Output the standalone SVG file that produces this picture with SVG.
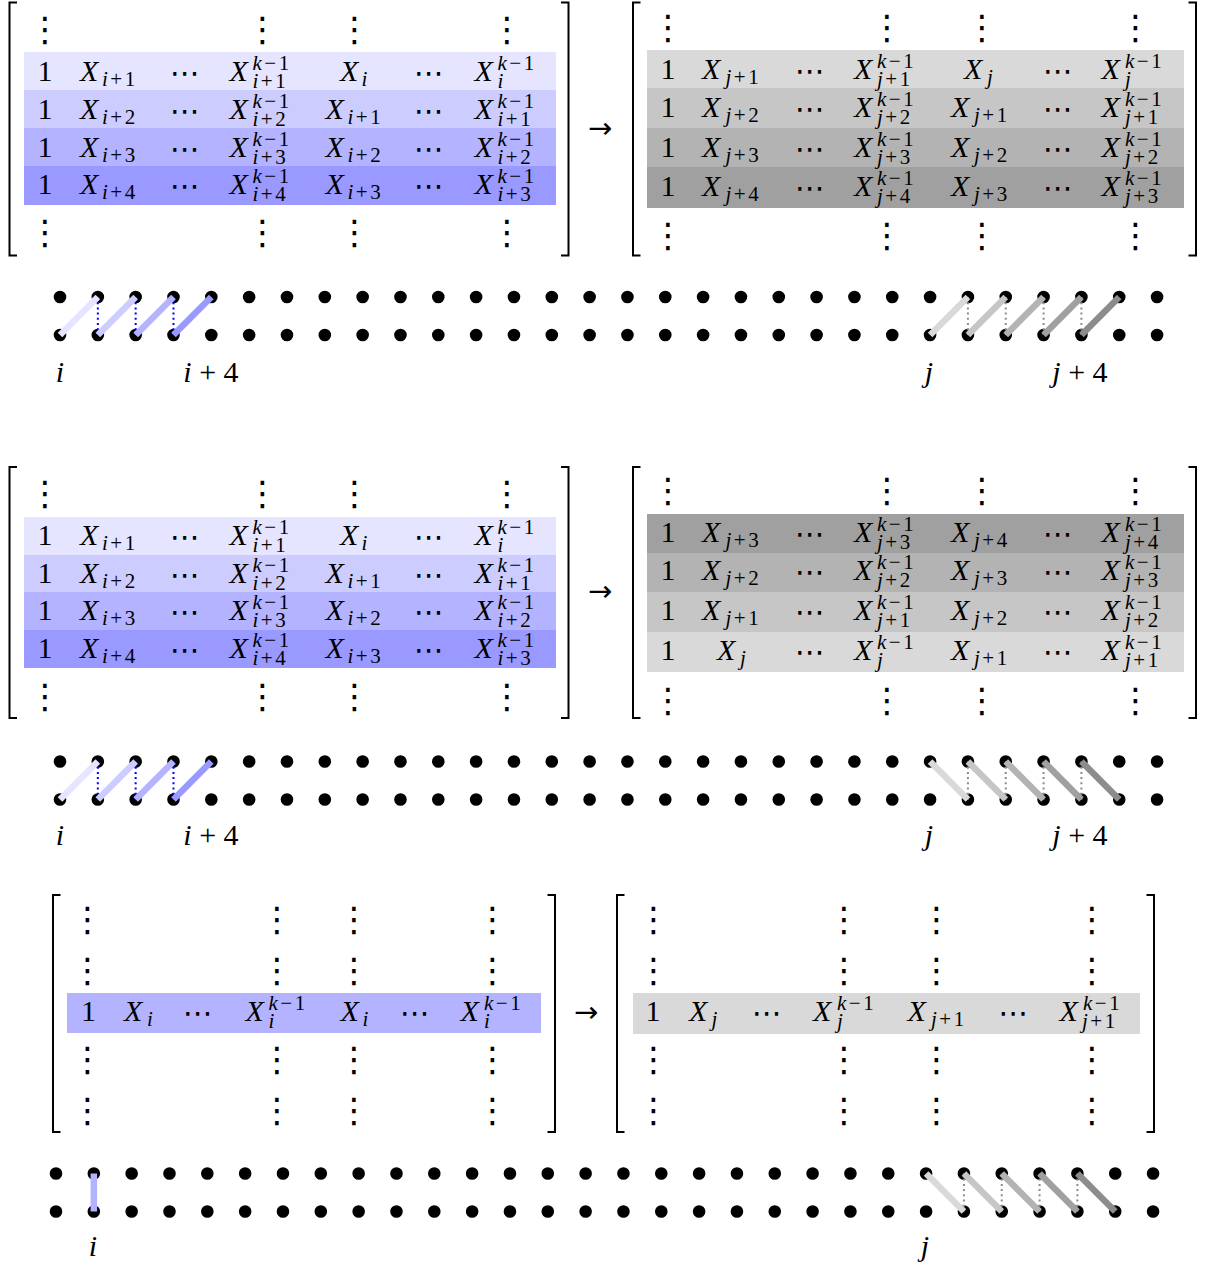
<svg xmlns="http://www.w3.org/2000/svg" width="1206" height="1266" viewBox="0 0 1206 1266">
<style>
.t{font-family:'Liberation Serif','DejaVu Serif','Times New Roman',serif;font-size:30px;fill:#000}
.x{font-style:italic}
.s{font-size:21px;letter-spacing:2.5px}
.e{font-family:'DejaVu Sans',sans-serif;font-size:34px;fill:#000;text-anchor:middle}
.h{font-family:'DejaVu Sans',sans-serif;font-size:30px;fill:#000;text-anchor:middle}
.ar{font-family:'DejaVu Sans',sans-serif;font-size:29px;fill:#000}
.c{text-anchor:middle}
.br{fill:none;stroke:#000;stroke-width:2}
.dr{stroke:#000;stroke-width:12.6;stroke-linecap:round;stroke-dasharray:0 37.83;fill:none}
.bar{stroke-width:6.5;stroke-linecap:butt;fill:none}
.bd{stroke:#0000ff;stroke-width:2;stroke-dasharray:2 3.2;fill:none}
.gd{stroke:#8c8c8c;stroke-width:2;stroke-dasharray:2 3.2;fill:none}
.b1{fill:#e5e5ff}.b2{fill:#ccccff}.b3{fill:#b3b3ff}.b4{fill:#9999ff}
.g1{fill:#d9d9d9}.g2{fill:#c6c6c6}.g3{fill:#b3b3b3}.g4{fill:#a0a0a0}
.sb1{stroke:#e5e5ff}.sb2{stroke:#ccccff}.sb3{stroke:#b3b3ff}.sb4{stroke:#9999ff}
.sg1{stroke:#d9d9d9}.sg2{stroke:#c6c6c6}.sg3{stroke:#b3b3b3}.sg4{stroke:#a0a0a0}.sg5{stroke:#8c8c8c}
</style>

<!-- ============ SECTION 1 ============ -->
<g id="s1-left">
<rect class="b1" x="24" y="52" width="532" height="38"/>
<rect class="b2" x="24" y="90" width="532" height="38"/>
<rect class="b3" x="24" y="128" width="532" height="38"/>
<rect class="b4" x="24" y="166" width="532" height="39"/>
<path class="br" d="M17,2.5H9.5V255.5H17"/>
<path class="br" d="M561,2.5H568.5V255.5H561"/>
<text class="e" x="45" y="41">⋮</text><text class="e" x="262.5" y="41">⋮</text><text class="e" x="354.5" y="41">⋮</text><text class="e" x="507" y="41">⋮</text>
<text class="e" x="45" y="244">⋮</text><text class="e" x="262.5" y="244">⋮</text><text class="e" x="354.5" y="244">⋮</text><text class="e" x="507" y="244">⋮</text>
<!-- row 1 -->
<text class="t c" x="45" y="81">1</text>
<text class="t"><tspan class="x" x="80" y="81">X</tspan><tspan class="s" x="102" y="86"><tspan class="x">i</tspan>+1</tspan></text>
<text class="h" x="185" y="83">⋯</text>
<text class="t"><tspan class="x" x="229.5" y="81">X</tspan><tspan class="s" x="252.5" y="70"><tspan class="x">k</tspan>−1</tspan><tspan class="s" x="252.5" y="88"><tspan class="x">i</tspan>+1</tspan></text>
<text class="t"><tspan class="x" x="340" y="81">X</tspan><tspan class="s x" x="361.5" y="86">i</tspan></text>
<text class="h" x="429" y="83">⋯</text>
<text class="t"><tspan class="x" x="474.5" y="81">X</tspan><tspan class="s" x="497.5" y="70"><tspan class="x">k</tspan>−1</tspan><tspan class="s x" x="497.5" y="88">i</tspan></text>
<!-- row 2 -->
<text class="t c" x="45" y="119">1</text>
<text class="t"><tspan class="x" x="80" y="119">X</tspan><tspan class="s" x="102" y="124"><tspan class="x">i</tspan>+2</tspan></text>
<text class="h" x="185" y="121">⋯</text>
<text class="t"><tspan class="x" x="229.5" y="119">X</tspan><tspan class="s" x="252.5" y="108"><tspan class="x">k</tspan>−1</tspan><tspan class="s" x="252.5" y="126"><tspan class="x">i</tspan>+2</tspan></text>
<text class="t"><tspan class="x" x="325.5" y="119">X</tspan><tspan class="s" x="347.5" y="124"><tspan class="x">i</tspan>+1</tspan></text>
<text class="h" x="429" y="121">⋯</text>
<text class="t"><tspan class="x" x="474.5" y="119">X</tspan><tspan class="s" x="497.5" y="108"><tspan class="x">k</tspan>−1</tspan><tspan class="s" x="497.5" y="126"><tspan class="x">i</tspan>+1</tspan></text>
<!-- row 3 -->
<text class="t c" x="45" y="157">1</text>
<text class="t"><tspan class="x" x="80" y="157">X</tspan><tspan class="s" x="102" y="162"><tspan class="x">i</tspan>+3</tspan></text>
<text class="h" x="185" y="159">⋯</text>
<text class="t"><tspan class="x" x="229.5" y="157">X</tspan><tspan class="s" x="252.5" y="146"><tspan class="x">k</tspan>−1</tspan><tspan class="s" x="252.5" y="164"><tspan class="x">i</tspan>+3</tspan></text>
<text class="t"><tspan class="x" x="325.5" y="157">X</tspan><tspan class="s" x="347.5" y="162"><tspan class="x">i</tspan>+2</tspan></text>
<text class="h" x="429" y="159">⋯</text>
<text class="t"><tspan class="x" x="474.5" y="157">X</tspan><tspan class="s" x="497.5" y="146"><tspan class="x">k</tspan>−1</tspan><tspan class="s" x="497.5" y="164"><tspan class="x">i</tspan>+2</tspan></text>
<!-- row 4 -->
<text class="t c" x="45" y="194">1</text>
<text class="t"><tspan class="x" x="80" y="194">X</tspan><tspan class="s" x="102" y="199"><tspan class="x">i</tspan>+4</tspan></text>
<text class="h" x="185" y="196">⋯</text>
<text class="t"><tspan class="x" x="229.5" y="194">X</tspan><tspan class="s" x="252.5" y="183"><tspan class="x">k</tspan>−1</tspan><tspan class="s" x="252.5" y="201"><tspan class="x">i</tspan>+4</tspan></text>
<text class="t"><tspan class="x" x="325.5" y="194">X</tspan><tspan class="s" x="347.5" y="199"><tspan class="x">i</tspan>+3</tspan></text>
<text class="h" x="429" y="196">⋯</text>
<text class="t"><tspan class="x" x="474.5" y="194">X</tspan><tspan class="s" x="497.5" y="183"><tspan class="x">k</tspan>−1</tspan><tspan class="s" x="497.5" y="201"><tspan class="x">i</tspan>+3</tspan></text>
</g>

<g id="s1-arrow"><text class="ar" x="588" y="138">→</text></g>

<g id="s1-right">
<rect class="g1" x="647" y="50" width="537" height="38"/>
<rect class="g2" x="647" y="88" width="537" height="40"/>
<rect class="g3" x="647" y="128" width="537" height="39"/>
<rect class="g4" x="647" y="167" width="537" height="41"/>
<path class="br" d="M640.5,2.5H633V255.5H640.5"/>
<path class="br" d="M1188.5,2.5H1196V255.5H1188.5"/>
<text class="e" x="668" y="39">⋮</text><text class="e" x="887" y="39">⋮</text><text class="e" x="982" y="39">⋮</text><text class="e" x="1135.5" y="39">⋮</text>
<text class="e" x="668" y="247">⋮</text><text class="e" x="887" y="247">⋮</text><text class="e" x="982" y="247">⋮</text><text class="e" x="1135.5" y="247">⋮</text>
<!-- row 1 -->
<text class="t c" x="668" y="79">1</text>
<text class="t"><tspan class="x" x="702" y="79">X</tspan><tspan class="s" x="725.5" y="84"><tspan class="x">j</tspan>+1</tspan></text>
<text class="h" x="810" y="81">⋯</text>
<text class="t"><tspan class="x" x="854" y="79">X</tspan><tspan class="s" x="877" y="68"><tspan class="x">k</tspan>−1</tspan><tspan class="s" x="877" y="86"><tspan class="x">j</tspan>+1</tspan></text>
<text class="t"><tspan class="x" x="964" y="79">X</tspan><tspan class="s x" x="987" y="84">j</tspan></text>
<text class="h" x="1058" y="81">⋯</text>
<text class="t"><tspan class="x" x="1101.5" y="79">X</tspan><tspan class="s" x="1125" y="68"><tspan class="x">k</tspan>−1</tspan><tspan class="s x" x="1125" y="86">j</tspan></text>
<!-- row 2 -->
<text class="t c" x="668" y="117">1</text>
<text class="t"><tspan class="x" x="702" y="117">X</tspan><tspan class="s" x="725.5" y="122"><tspan class="x">j</tspan>+2</tspan></text>
<text class="h" x="810" y="119">⋯</text>
<text class="t"><tspan class="x" x="854" y="117">X</tspan><tspan class="s" x="877" y="106"><tspan class="x">k</tspan>−1</tspan><tspan class="s" x="877" y="124"><tspan class="x">j</tspan>+2</tspan></text>
<text class="t"><tspan class="x" x="951" y="117">X</tspan><tspan class="s" x="974" y="122"><tspan class="x">j</tspan>+1</tspan></text>
<text class="h" x="1058" y="119">⋯</text>
<text class="t"><tspan class="x" x="1101.5" y="117">X</tspan><tspan class="s" x="1125" y="106"><tspan class="x">k</tspan>−1</tspan><tspan class="s" x="1125" y="124"><tspan class="x">j</tspan>+1</tspan></text>
<!-- row 3 -->
<text class="t c" x="668" y="157">1</text>
<text class="t"><tspan class="x" x="702" y="157">X</tspan><tspan class="s" x="725.5" y="162"><tspan class="x">j</tspan>+3</tspan></text>
<text class="h" x="810" y="159">⋯</text>
<text class="t"><tspan class="x" x="854" y="157">X</tspan><tspan class="s" x="877" y="146"><tspan class="x">k</tspan>−1</tspan><tspan class="s" x="877" y="164"><tspan class="x">j</tspan>+3</tspan></text>
<text class="t"><tspan class="x" x="951" y="157">X</tspan><tspan class="s" x="974" y="162"><tspan class="x">j</tspan>+2</tspan></text>
<text class="h" x="1058" y="159">⋯</text>
<text class="t"><tspan class="x" x="1101.5" y="157">X</tspan><tspan class="s" x="1125" y="146"><tspan class="x">k</tspan>−1</tspan><tspan class="s" x="1125" y="164"><tspan class="x">j</tspan>+2</tspan></text>
<!-- row 4 -->
<text class="t c" x="668" y="196">1</text>
<text class="t"><tspan class="x" x="702" y="196">X</tspan><tspan class="s" x="725.5" y="201"><tspan class="x">j</tspan>+4</tspan></text>
<text class="h" x="810" y="198">⋯</text>
<text class="t"><tspan class="x" x="854" y="196">X</tspan><tspan class="s" x="877" y="185"><tspan class="x">k</tspan>−1</tspan><tspan class="s" x="877" y="203"><tspan class="x">j</tspan>+4</tspan></text>
<text class="t"><tspan class="x" x="951" y="196">X</tspan><tspan class="s" x="974" y="201"><tspan class="x">j</tspan>+3</tspan></text>
<text class="h" x="1058" y="198">⋯</text>
<text class="t"><tspan class="x" x="1101.5" y="196">X</tspan><tspan class="s" x="1125" y="185"><tspan class="x">k</tspan>−1</tspan><tspan class="s" x="1125" y="203"><tspan class="x">j</tspan>+3</tspan></text>
</g>

<g id="s1-dots">
<line class="dr" x1="60" y1="297" x2="1157.5" y2="297"/>
<line class="dr" x1="60" y1="335" x2="1157.5" y2="335"/>
</g>
<g id="s1-connectors">
<line class="bd" x1="97.83" y1="297" x2="97.83" y2="335"/>
<line class="bd" x1="135.66" y1="297" x2="135.66" y2="335"/>
<line class="bd" x1="173.49" y1="297" x2="173.49" y2="335"/>
<line class="gd" x1="967.92" y1="297" x2="967.92" y2="335"/>
<line class="gd" x1="1005.75" y1="297" x2="1005.75" y2="335"/>
<line class="gd" x1="1043.58" y1="297" x2="1043.58" y2="335"/>
<line class="gd" x1="1081.41" y1="297" x2="1081.41" y2="335"/>
<line class="bar sb1" x1="60" y1="335" x2="97.83" y2="297"/>
<line class="bar sb2" x1="97.83" y1="335" x2="135.66" y2="297"/>
<line class="bar sb3" x1="135.66" y1="335" x2="173.49" y2="297"/>
<line class="bar sb4" x1="173.49" y1="335" x2="211.32" y2="297"/>
<line class="bar sg1" x1="930.09" y1="335" x2="967.92" y2="297"/>
<line class="bar sg2" x1="967.92" y1="335" x2="1005.75" y2="297"/>
<line class="bar sg3" x1="1005.75" y1="335" x2="1043.58" y2="297"/>
<line class="bar sg4" x1="1043.58" y1="335" x2="1081.41" y2="297"/>
<line class="bar sg5" x1="1081.41" y1="335" x2="1119.24" y2="297"/>
</g>
<g id="s1-labels">
<text class="t x c" x="60" y="382">i</text>
<text class="t c" x="211" y="382"><tspan class="x">i</tspan> + 4</text>
<text class="t x c" x="929" y="382">j</text>
<text class="t c" x="1080" y="382"><tspan class="x">j</tspan> + 4</text>
</g>

<!-- ============ SECTION 2 ============ -->
<g id="s2-left">
<rect class="b1" x="24" y="517" width="532" height="38"/>
<rect class="b2" x="24" y="555" width="532" height="37"/>
<rect class="b3" x="24" y="592" width="532" height="38"/>
<rect class="b4" x="24" y="630" width="532" height="38"/>
<path class="br" d="M17,467H9.5V718H17"/>
<path class="br" d="M561,467H568.5V718H561"/>
<text class="e" x="45" y="505">⋮</text><text class="e" x="262.5" y="505">⋮</text><text class="e" x="354.5" y="505">⋮</text><text class="e" x="507" y="505">⋮</text>
<text class="e" x="45" y="708">⋮</text><text class="e" x="262.5" y="708">⋮</text><text class="e" x="354.5" y="708">⋮</text><text class="e" x="507" y="708">⋮</text>
<!-- row 1 -->
<text class="t c" x="45" y="545">1</text>
<text class="t"><tspan class="x" x="80" y="545">X</tspan><tspan class="s" x="102" y="550"><tspan class="x">i</tspan>+1</tspan></text>
<text class="h" x="185" y="547">⋯</text>
<text class="t"><tspan class="x" x="229.5" y="545">X</tspan><tspan class="s" x="252.5" y="534"><tspan class="x">k</tspan>−1</tspan><tspan class="s" x="252.5" y="552"><tspan class="x">i</tspan>+1</tspan></text>
<text class="t"><tspan class="x" x="340" y="545">X</tspan><tspan class="s x" x="361.5" y="550">i</tspan></text>
<text class="h" x="429" y="547">⋯</text>
<text class="t"><tspan class="x" x="474.5" y="545">X</tspan><tspan class="s" x="497.5" y="534"><tspan class="x">k</tspan>−1</tspan><tspan class="s x" x="497.5" y="552">i</tspan></text>
<!-- row 2 -->
<text class="t c" x="45" y="583">1</text>
<text class="t"><tspan class="x" x="80" y="583">X</tspan><tspan class="s" x="102" y="588"><tspan class="x">i</tspan>+2</tspan></text>
<text class="h" x="185" y="585">⋯</text>
<text class="t"><tspan class="x" x="229.5" y="583">X</tspan><tspan class="s" x="252.5" y="572"><tspan class="x">k</tspan>−1</tspan><tspan class="s" x="252.5" y="590"><tspan class="x">i</tspan>+2</tspan></text>
<text class="t"><tspan class="x" x="325.5" y="583">X</tspan><tspan class="s" x="347.5" y="588"><tspan class="x">i</tspan>+1</tspan></text>
<text class="h" x="429" y="585">⋯</text>
<text class="t"><tspan class="x" x="474.5" y="583">X</tspan><tspan class="s" x="497.5" y="572"><tspan class="x">k</tspan>−1</tspan><tspan class="s" x="497.5" y="590"><tspan class="x">i</tspan>+1</tspan></text>
<!-- row 3 -->
<text class="t c" x="45" y="620">1</text>
<text class="t"><tspan class="x" x="80" y="620">X</tspan><tspan class="s" x="102" y="625"><tspan class="x">i</tspan>+3</tspan></text>
<text class="h" x="185" y="622">⋯</text>
<text class="t"><tspan class="x" x="229.5" y="620">X</tspan><tspan class="s" x="252.5" y="609"><tspan class="x">k</tspan>−1</tspan><tspan class="s" x="252.5" y="627"><tspan class="x">i</tspan>+3</tspan></text>
<text class="t"><tspan class="x" x="325.5" y="620">X</tspan><tspan class="s" x="347.5" y="625"><tspan class="x">i</tspan>+2</tspan></text>
<text class="h" x="429" y="622">⋯</text>
<text class="t"><tspan class="x" x="474.5" y="620">X</tspan><tspan class="s" x="497.5" y="609"><tspan class="x">k</tspan>−1</tspan><tspan class="s" x="497.5" y="627"><tspan class="x">i</tspan>+2</tspan></text>
<!-- row 4 -->
<text class="t c" x="45" y="658">1</text>
<text class="t"><tspan class="x" x="80" y="658">X</tspan><tspan class="s" x="102" y="663"><tspan class="x">i</tspan>+4</tspan></text>
<text class="h" x="185" y="660">⋯</text>
<text class="t"><tspan class="x" x="229.5" y="658">X</tspan><tspan class="s" x="252.5" y="647"><tspan class="x">k</tspan>−1</tspan><tspan class="s" x="252.5" y="665"><tspan class="x">i</tspan>+4</tspan></text>
<text class="t"><tspan class="x" x="325.5" y="658">X</tspan><tspan class="s" x="347.5" y="663"><tspan class="x">i</tspan>+3</tspan></text>
<text class="h" x="429" y="660">⋯</text>
<text class="t"><tspan class="x" x="474.5" y="658">X</tspan><tspan class="s" x="497.5" y="647"><tspan class="x">k</tspan>−1</tspan><tspan class="s" x="497.5" y="665"><tspan class="x">i</tspan>+3</tspan></text>
</g>

<g id="s2-arrow"><text class="ar" x="588" y="601">→</text></g>

<g id="s2-right">
<rect class="g4" x="647" y="514" width="537" height="39"/>
<rect class="g3" x="647" y="553" width="537" height="39"/>
<rect class="g2" x="647" y="592" width="537" height="40"/>
<rect class="g1" x="647" y="632" width="537" height="40"/>
<path class="br" d="M640.5,467H633V718H640.5"/>
<path class="br" d="M1188.5,467H1196V718H1188.5"/>
<text class="e" x="668" y="502">⋮</text><text class="e" x="887" y="502">⋮</text><text class="e" x="982" y="502">⋮</text><text class="e" x="1135.5" y="502">⋮</text>
<text class="e" x="668" y="712">⋮</text><text class="e" x="887" y="712">⋮</text><text class="e" x="982" y="712">⋮</text><text class="e" x="1135.5" y="712">⋮</text>
<!-- row 1 -->
<text class="t c" x="668" y="542">1</text>
<text class="t"><tspan class="x" x="702" y="542">X</tspan><tspan class="s" x="725.5" y="547"><tspan class="x">j</tspan>+3</tspan></text>
<text class="h" x="810" y="544">⋯</text>
<text class="t"><tspan class="x" x="854" y="542">X</tspan><tspan class="s" x="877" y="531"><tspan class="x">k</tspan>−1</tspan><tspan class="s" x="877" y="549"><tspan class="x">j</tspan>+3</tspan></text>
<text class="t"><tspan class="x" x="951" y="542">X</tspan><tspan class="s" x="974" y="547"><tspan class="x">j</tspan>+4</tspan></text>
<text class="h" x="1058" y="544">⋯</text>
<text class="t"><tspan class="x" x="1101.5" y="542">X</tspan><tspan class="s" x="1125" y="531"><tspan class="x">k</tspan>−1</tspan><tspan class="s" x="1125" y="549"><tspan class="x">j</tspan>+4</tspan></text>
<!-- row 2 -->
<text class="t c" x="668" y="580">1</text>
<text class="t"><tspan class="x" x="702" y="580">X</tspan><tspan class="s" x="725.5" y="585"><tspan class="x">j</tspan>+2</tspan></text>
<text class="h" x="810" y="582">⋯</text>
<text class="t"><tspan class="x" x="854" y="580">X</tspan><tspan class="s" x="877" y="569"><tspan class="x">k</tspan>−1</tspan><tspan class="s" x="877" y="587"><tspan class="x">j</tspan>+2</tspan></text>
<text class="t"><tspan class="x" x="951" y="580">X</tspan><tspan class="s" x="974" y="585"><tspan class="x">j</tspan>+3</tspan></text>
<text class="h" x="1058" y="582">⋯</text>
<text class="t"><tspan class="x" x="1101.5" y="580">X</tspan><tspan class="s" x="1125" y="569"><tspan class="x">k</tspan>−1</tspan><tspan class="s" x="1125" y="587"><tspan class="x">j</tspan>+3</tspan></text>
<!-- row 3 -->
<text class="t c" x="668" y="620">1</text>
<text class="t"><tspan class="x" x="702" y="620">X</tspan><tspan class="s" x="725.5" y="625"><tspan class="x">j</tspan>+1</tspan></text>
<text class="h" x="810" y="622">⋯</text>
<text class="t"><tspan class="x" x="854" y="620">X</tspan><tspan class="s" x="877" y="609"><tspan class="x">k</tspan>−1</tspan><tspan class="s" x="877" y="627"><tspan class="x">j</tspan>+1</tspan></text>
<text class="t"><tspan class="x" x="951" y="620">X</tspan><tspan class="s" x="974" y="625"><tspan class="x">j</tspan>+2</tspan></text>
<text class="h" x="1058" y="622">⋯</text>
<text class="t"><tspan class="x" x="1101.5" y="620">X</tspan><tspan class="s" x="1125" y="609"><tspan class="x">k</tspan>−1</tspan><tspan class="s" x="1125" y="627"><tspan class="x">j</tspan>+2</tspan></text>
<!-- row 4 -->
<text class="t c" x="668" y="660">1</text>
<text class="t"><tspan class="x" x="717" y="660">X</tspan><tspan class="s x" x="740" y="665">j</tspan></text>
<text class="h" x="810" y="662">⋯</text>
<text class="t"><tspan class="x" x="854" y="660">X</tspan><tspan class="s" x="877" y="649"><tspan class="x">k</tspan>−1</tspan><tspan class="s x" x="877" y="667">j</tspan></text>
<text class="t"><tspan class="x" x="951" y="660">X</tspan><tspan class="s" x="974" y="665"><tspan class="x">j</tspan>+1</tspan></text>
<text class="h" x="1058" y="662">⋯</text>
<text class="t"><tspan class="x" x="1101.5" y="660">X</tspan><tspan class="s" x="1125" y="649"><tspan class="x">k</tspan>−1</tspan><tspan class="s" x="1125" y="667"><tspan class="x">j</tspan>+1</tspan></text>
</g>

<g id="s2-dots">
<line class="dr" x1="60" y1="761.5" x2="1157.5" y2="761.5"/>
<line class="dr" x1="60" y1="799.5" x2="1157.5" y2="799.5"/>
</g>
<g id="s2-connectors">
<line class="bd" x1="97.83" y1="761.5" x2="97.83" y2="799.5"/>
<line class="bd" x1="135.66" y1="761.5" x2="135.66" y2="799.5"/>
<line class="bd" x1="173.49" y1="761.5" x2="173.49" y2="799.5"/>
<line class="gd" x1="967.92" y1="761.5" x2="967.92" y2="799.5"/>
<line class="gd" x1="1005.75" y1="761.5" x2="1005.75" y2="799.5"/>
<line class="gd" x1="1043.58" y1="761.5" x2="1043.58" y2="799.5"/>
<line class="gd" x1="1081.41" y1="761.5" x2="1081.41" y2="799.5"/>
<line class="bar sb1" x1="60" y1="799.5" x2="97.83" y2="761.5"/>
<line class="bar sb2" x1="97.83" y1="799.5" x2="135.66" y2="761.5"/>
<line class="bar sb3" x1="135.66" y1="799.5" x2="173.49" y2="761.5"/>
<line class="bar sb4" x1="173.49" y1="799.5" x2="211.32" y2="761.5"/>
<line class="bar sg1" x1="930.09" y1="761.5" x2="967.92" y2="799.5"/>
<line class="bar sg2" x1="967.92" y1="761.5" x2="1005.75" y2="799.5"/>
<line class="bar sg3" x1="1005.75" y1="761.5" x2="1043.58" y2="799.5"/>
<line class="bar sg4" x1="1043.58" y1="761.5" x2="1081.41" y2="799.5"/>
<line class="bar sg5" x1="1081.41" y1="761.5" x2="1119.24" y2="799.5"/>
</g>
<g id="s2-labels">
<text class="t x c" x="60" y="845">i</text>
<text class="t c" x="211" y="845"><tspan class="x">i</tspan> + 4</text>
<text class="t x c" x="929" y="845">j</text>
<text class="t c" x="1080" y="845"><tspan class="x">j</tspan> + 4</text>
</g>

<!-- ============ SECTION 3 ============ -->
<g id="s3-left">
<rect class="b3" x="67" y="993" width="474" height="40"/>
<path class="br" d="M60.5,895H53V1132H60.5"/>
<path class="br" d="M547.5,895H555V1132H547.5"/>
<text class="e" x="87.5" y="931">⋮</text><text class="e" x="277" y="931">⋮</text><text class="e" x="354" y="931">⋮</text><text class="e" x="492.5" y="931">⋮</text>
<text class="e" x="87.5" y="982">⋮</text><text class="e" x="277" y="982">⋮</text><text class="e" x="354" y="982">⋮</text><text class="e" x="492.5" y="982">⋮</text>
<text class="e" x="87.5" y="1071">⋮</text><text class="e" x="277" y="1071">⋮</text><text class="e" x="354" y="1071">⋮</text><text class="e" x="492.5" y="1071">⋮</text>
<text class="e" x="87.5" y="1122">⋮</text><text class="e" x="277" y="1122">⋮</text><text class="e" x="354" y="1122">⋮</text><text class="e" x="492.5" y="1122">⋮</text>
<text class="t c" x="88.5" y="1021">1</text>
<text class="t"><tspan class="x" x="124" y="1021">X</tspan><tspan class="s x" x="147" y="1026">i</tspan></text>
<text class="h" x="198" y="1023">⋯</text>
<text class="t"><tspan class="x" x="245.5" y="1021">X</tspan><tspan class="s" x="268.5" y="1010"><tspan class="x">k</tspan>−1</tspan><tspan class="s x" x="268.5" y="1028">i</tspan></text>
<text class="t"><tspan class="x" x="340.5" y="1021">X</tspan><tspan class="s x" x="362.5" y="1026">i</tspan></text>
<text class="h" x="415" y="1023">⋯</text>
<text class="t"><tspan class="x" x="460.5" y="1021">X</tspan><tspan class="s" x="484" y="1010"><tspan class="x">k</tspan>−1</tspan><tspan class="s x" x="484" y="1028">i</tspan></text>
</g>

<g id="s3-arrow"><text class="ar" x="574" y="1022">→</text></g>

<g id="s3-right">
<rect class="g1" x="633" y="993" width="507" height="41"/>
<path class="br" d="M624.5,895H617V1132H624.5"/>
<path class="br" d="M1146.5,895H1154V1132H1146.5"/>
<text class="e" x="653.5" y="931">⋮</text><text class="e" x="844" y="931">⋮</text><text class="e" x="936.5" y="931">⋮</text><text class="e" x="1092" y="931">⋮</text>
<text class="e" x="653.5" y="982">⋮</text><text class="e" x="844" y="982">⋮</text><text class="e" x="936.5" y="982">⋮</text><text class="e" x="1092" y="982">⋮</text>
<text class="e" x="653.5" y="1071">⋮</text><text class="e" x="844" y="1071">⋮</text><text class="e" x="936.5" y="1071">⋮</text><text class="e" x="1092" y="1071">⋮</text>
<text class="e" x="653.5" y="1122">⋮</text><text class="e" x="844" y="1122">⋮</text><text class="e" x="936.5" y="1122">⋮</text><text class="e" x="1092" y="1122">⋮</text>
<text class="t c" x="653" y="1021">1</text>
<text class="t"><tspan class="x" x="689" y="1021">X</tspan><tspan class="s x" x="711.5" y="1026">j</tspan></text>
<text class="h" x="767" y="1023">⋯</text>
<text class="t"><tspan class="x" x="813" y="1021">X</tspan><tspan class="s" x="837" y="1010"><tspan class="x">k</tspan>−1</tspan><tspan class="s x" x="837" y="1028">j</tspan></text>
<text class="t"><tspan class="x" x="907.5" y="1021">X</tspan><tspan class="s" x="931" y="1026"><tspan class="x">j</tspan>+1</tspan></text>
<text class="h" x="1013.5" y="1023">⋯</text>
<text class="t"><tspan class="x" x="1059.5" y="1021">X</tspan><tspan class="s" x="1083" y="1010"><tspan class="x">k</tspan>−1</tspan><tspan class="s" x="1082" y="1028"><tspan class="x">j</tspan>+1</tspan></text>
</g>

<g id="s3-dots">
<line class="dr" x1="56" y1="1173.5" x2="1153.5" y2="1173.5"/>
<line class="dr" x1="56" y1="1211.5" x2="1153.5" y2="1211.5"/>
</g>
<g id="s3-connectors">
<line class="gd" x1="963.92" y1="1173.5" x2="963.92" y2="1211.5"/>
<line class="gd" x1="1001.75" y1="1173.5" x2="1001.75" y2="1211.5"/>
<line class="gd" x1="1039.58" y1="1173.5" x2="1039.58" y2="1211.5"/>
<line class="gd" x1="1077.41" y1="1173.5" x2="1077.41" y2="1211.5"/>
<line class="bar sb3" x1="93.83" y1="1173.5" x2="93.83" y2="1211.5"/>
<line class="bar sg1" x1="926.09" y1="1173.5" x2="963.92" y2="1211.5"/>
<line class="bar sg2" x1="963.92" y1="1173.5" x2="1001.75" y2="1211.5"/>
<line class="bar sg3" x1="1001.75" y1="1173.5" x2="1039.58" y2="1211.5"/>
<line class="bar sg4" x1="1039.58" y1="1173.5" x2="1077.41" y2="1211.5"/>
<line class="bar sg5" x1="1077.41" y1="1173.5" x2="1115.24" y2="1211.5"/>
</g>
<g id="s3-labels">
<text class="t x c" x="93" y="1256">i</text>
<text class="t x c" x="925" y="1256">j</text>
</g>
</svg>
